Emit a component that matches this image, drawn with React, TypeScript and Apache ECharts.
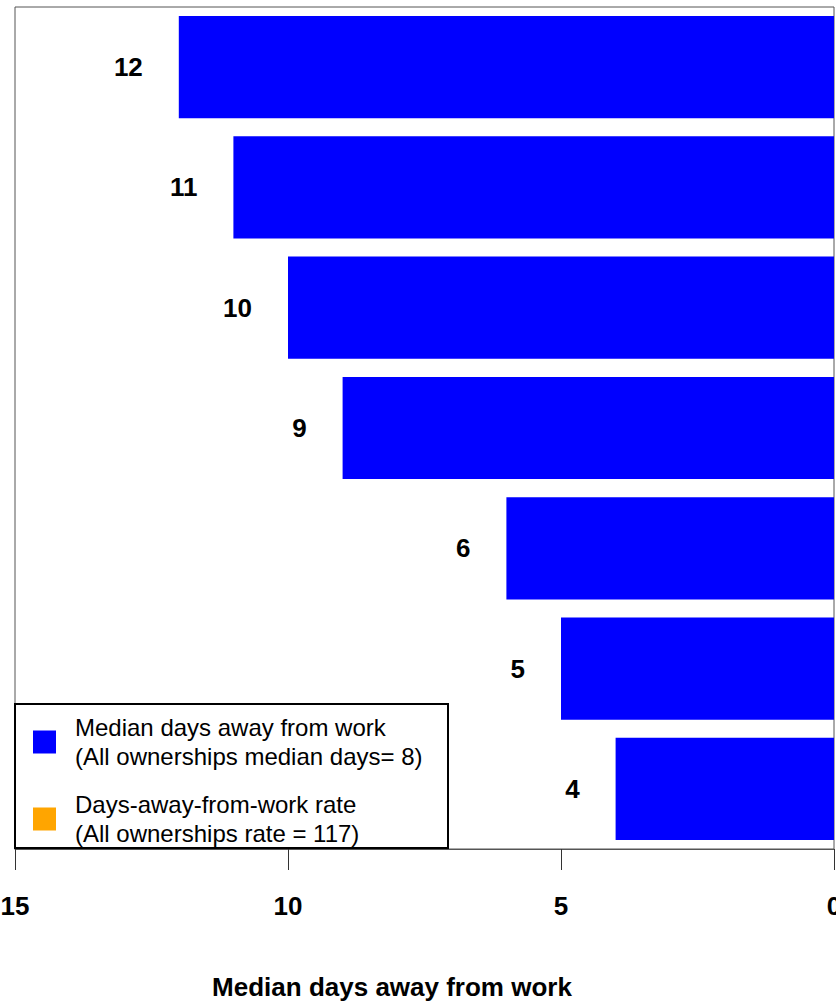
import React, { useEffect, useRef } from "react";
import * as echarts from "echarts";

const categories = ["Group 1", "Group 2", "Group 3", "Group 4", "Group 5", "Group 6", "Group 7"];
const medianDays = [12, 11, 10, 9, 6, 5, 4];
const rateValues: number[] = [];
const seriesNames = [
  "Median days away from work\n(All ownerships median days= 8)",
  "Days-away-from-work rate\n(All ownerships rate = 117)",
];
const axisTitle = "Median days away from work";

const FONT = "Arial, 'Liberation Sans', Helvetica, sans-serif";

export default function App() {
  const ref = useRef<HTMLDivElement>(null);
  useEffect(() => {
    if (!ref.current) return;
    const chart = echarts.init(ref.current, null, { renderer: "svg" });
    chart.setOption({
      animation: false,
      backgroundColor: "#fff",
      grid: {
        left: 15,
        right: 2,
        top: 7,
        bottom: 154,
        show: true,
        borderColor: "#555",
        borderWidth: 1,
        containLabel: false,
        outerBoundsMode: "none",
      },
      xAxis: {
        type: "value",
        inverse: true,
        min: 0,
        max: 15,
        interval: 5,
        axisLine: { show: true, lineStyle: { color: "#555", width: 1 } },
        axisTick: { show: true, length: 21, lineStyle: { color: "#333" } },
        axisLabel: {
          margin: 44,
          fontFamily: FONT,
          fontWeight: "bold",
          fontSize: 26,
          color: "#000",
          hideOverlap: false,
        },
        splitLine: { show: false },
      },
      yAxis: {
        type: "category",
        data: categories,
        inverse: true,
        axisLine: { show: false },
        axisTick: { show: false },
        axisLabel: { show: false },
      },
      legend: {
        orient: "vertical",
        left: 33,
        top: 713,
        itemWidth: 23,
        itemHeight: 23,
        itemGap: 19,
        icon: "rect",
        padding: 0,
        textStyle: {
          fontFamily: FONT,
          fontSize: 24,
          lineHeight: 29,
          color: "#000",
          padding: [0, 0, 0, 14],
        },
        data: seriesNames,
      },
      graphic: [
        {
          type: "rect",
          shape: { x: 15, y: 704, width: 433, height: 144 },
          style: { fill: "none", stroke: "#000", lineWidth: 2 },
          z: 10,
        },
        {
          type: "text",
          x: 392,
          y: 987,
          style: {
            text: axisTitle,
            fontFamily: FONT,
            fontWeight: "bold",
            fontSize: 26,
            fill: "#000",
            align: "center",
            verticalAlign: "middle",
          },
        },
      ],
      series: [
        {
          name: seriesNames[0],
          type: "bar",
          data: medianDays,
          barCategoryGap: "15%",
          barGap: "-100%",
          itemStyle: { color: "#0000FF" },
          label: {
            show: true,
            position: "left",
            distance: 36,
            fontFamily: FONT,
            fontWeight: "bold",
            fontSize: 26,
            color: "#000",
          },
        },
        {
          name: seriesNames[1],
          type: "bar",
          data: rateValues,
          barCategoryGap: "15%",
          itemStyle: { color: "#FFA500" },
        },
      ],
    });
    return () => chart.dispose();
  }, []);
  return (
    <div
      ref={ref}
      style={{ position: "absolute", left: 0, top: 0, width: 836, height: 1003 }}
    />
  );
}
